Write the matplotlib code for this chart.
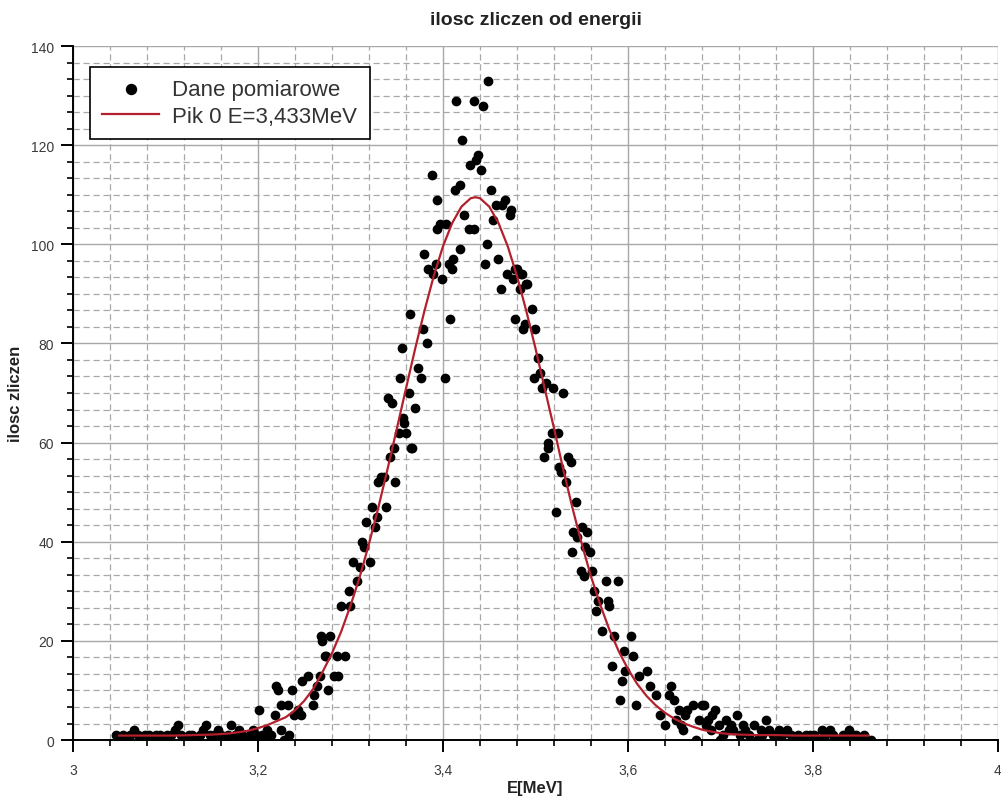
import matplotlib
matplotlib.use("Agg")
import matplotlib.pyplot as plt
from matplotlib.ticker import MultipleLocator, FuncFormatter

plt.rcParams['font.family'] = ['Liberation Sans', 'DejaVu Sans']

# punkty pomiarowe
energy = [3.047, 3.050, 3.054, 3.058, 3.062, 3.066, 3.070, 3.074, 3.078, 3.082,
          3.086, 3.090, 3.094, 3.098, 3.102, 3.106, 3.110, 3.113, 3.117, 3.121,
          3.125, 3.129, 3.133, 3.137, 3.141, 3.144, 3.148, 3.152, 3.157, 3.160,
          3.164, 3.168, 3.171, 3.175, 3.179, 3.183, 3.187, 3.191, 3.195, 3.198,
          3.201, 3.204, 3.207, 3.210, 3.214, 3.218, 3.220, 3.222, 3.225, 3.225,
          3.228, 3.232, 3.234, 3.237, 3.239, 3.243, 3.246, 3.248, 3.254, 3.260,
          3.261, 3.264, 3.267, 3.268, 3.269, 3.272, 3.274, 3.276, 3.278, 3.282,
          3.285, 3.286, 3.290, 3.294, 3.298, 3.300, 3.303, 3.307, 3.310, 3.312,
          3.315, 3.317, 3.321, 3.323, 3.327, 3.329, 3.330, 3.333, 3.336, 3.338,
          3.341, 3.343, 3.345, 3.347, 3.348, 3.352, 3.354, 3.356, 3.357, 3.358,
          3.360, 3.363, 3.364, 3.365, 3.367, 3.370, 3.373, 3.376, 3.378, 3.379,
          3.383, 3.384, 3.388, 3.389, 3.392, 3.393, 3.394, 3.397, 3.399, 3.402,
          3.403, 3.406, 3.408, 3.410, 3.411, 3.413, 3.414, 3.418, 3.418, 3.421,
          3.423, 3.428, 3.429, 3.433, 3.434, 3.436, 3.438, 3.441, 3.443, 3.445,
          3.448, 3.449, 3.452, 3.454, 3.457, 3.459, 3.463, 3.464, 3.467, 3.469,
          3.472, 3.473, 3.476, 3.478, 3.478, 3.480, 3.483, 3.484, 3.485, 3.487,
          3.489, 3.490, 3.491, 3.496, 3.498, 3.500, 3.503, 3.505, 3.507, 3.509,
          3.511, 3.513, 3.514, 3.518, 3.519, 3.522, 3.524, 3.525, 3.528, 3.530,
          3.533, 3.535, 3.538, 3.540, 3.541, 3.544, 3.545, 3.549, 3.550, 3.552,
          3.554, 3.556, 3.559, 3.561, 3.563, 3.565, 3.568, 3.572, 3.576, 3.578,
          3.580, 3.583, 3.585, 3.589, 3.591, 3.594, 3.596, 3.597, 3.603, 3.605,
          3.609, 3.612, 3.621, 3.624, 3.630, 3.635, 3.640, 3.644, 3.647, 3.650,
          3.652, 3.655, 3.657, 3.660, 3.662, 3.664, 3.670, 3.673, 3.677, 3.680,
          3.682, 3.684, 3.686, 3.690, 3.691, 3.694, 3.698, 3.700, 3.703, 3.706,
          3.709, 3.711, 3.714, 3.718, 3.721, 3.724, 3.727, 3.731, 3.736, 3.739,
          3.744, 3.745, 3.749, 3.752, 3.757, 3.759, 3.763, 3.767, 3.772, 3.776,
          3.780, 3.784, 3.788, 3.792, 3.797, 3.801, 3.806, 3.810, 3.813, 3.818,
          3.822, 3.826, 3.832, 3.836, 3.839, 3.843, 3.847, 3.851, 3.855, 3.858, 3.863]
counts = [1, 0, 1, 0, 1, 2, 1, 0, 1, 1,
          0, 1, 1, 0, 1, 1, 2, 3, 1, 0,
          1, 1, 0, 1, 2, 3, 1, 1, 2, 1,
          0, 1, 3, 1, 2, 1, 0, 1, 2, 1,
          6, 1, 0, 2, 1, 5, 11, 10, 2, 7,
          0, 7, 1, 10, 5, 6, 5, 12, 13, 7,
          9, 11, 13, 21, 20, 17, 17, 10, 21, 13,
          17, 13, 27, 17, 30, 27, 36, 32, 35, 40,
          39, 44, 36, 47, 43, 45, 52, 53, 53, 47,
          69, 57, 68, 59, 52, 62, 73, 79, 65, 64,
          62, 70, 86, 59, 59, 67, 75, 73, 83, 98,
          80, 95, 114, 94, 96, 103, 109, 104, 93, 73,
          104, 96, 85, 95, 97, 111, 129, 99, 112, 121,
          106, 103, 116, 103, 129, 117, 118, 115, 128, 96,
          100, 133, 111, 105, 108, 97, 91, 108, 109, 94,
          106, 107, 93, 85, 95, 95, 91, 94, 94, 83,
          84, 92, 92, 87, 73, 83, 77, 74, 71, 57,
          72, 60, 59, 62, 71, 46, 62, 55, 54, 70,
          52, 57, 56, 38, 42, 48, 41, 34, 43, 33,
          39, 42, 38, 34, 30, 26, 28, 22, 32, 28,
          27, 15, 21, 32, 8, 12, 18, 14, 21, 17,
          7, 13, 14, 11, 9, 5, 3, 9, 11, 8,
          4, 6, 3, 2, 5, 6, 7, 0, 4, 7,
          7, 3, 4, 2, 5, 6, 3, 0, 1, 4,
          2, 3, 2, 5, 1, 3, 2, 1, 3, 0,
          2, 1, 4, 2, 1, 1, 2, 1, 2, 1,
          0, 1, 0, 1, 1, 1, 0, 2, 1, 2,
          1, 0, 1, 1, 2, 1, 1, 0, 1, 0, 0]

# krzywa dopasowania
fit_e = [3.05, 3.07, 3.09, 3.11, 3.13, 3.15, 3.16, 3.17, 3.18, 3.19,
         3.20, 3.21, 3.22, 3.23, 3.24, 3.25, 3.26, 3.27, 3.28, 3.29,
         3.30, 3.31, 3.32, 3.33, 3.34, 3.35, 3.36, 3.37, 3.38, 3.39,
         3.40, 3.41, 3.42, 3.43, 3.435, 3.44, 3.45, 3.46, 3.47, 3.48, 3.49,
         3.50, 3.51, 3.52, 3.53, 3.54, 3.55, 3.56, 3.57, 3.58, 3.59,
         3.60, 3.61, 3.62, 3.63, 3.64, 3.65, 3.66, 3.67, 3.68, 3.69,
         3.70, 3.71, 3.72, 3.74, 3.76, 3.78, 3.80, 3.82, 3.84, 3.86]
fit_n = [0.9, 0.9, 0.9, 0.9, 1.0, 1.1, 1.2, 1.35, 1.6, 1.9,
         2.4, 3.0, 3.8, 4.6, 6.0, 7.9, 10.4, 13.8, 17.5, 21.9,
         27.1, 32.9, 39.6, 46.8, 54.6, 62.7, 70.9, 79.0, 86.6, 93.6,
         99.6, 104.3, 107.6, 109.3, 109.5, 109.3, 107.6, 104.3, 99.6, 93.6, 86.6,
         79.0, 70.9, 62.9, 54.6, 46.8, 39.6, 33.0, 27.3, 22.2, 17.9,
         14.3, 11.3, 8.9, 7.0, 5.5, 4.3, 3.4, 2.7, 2.1, 1.7,
         1.4, 1.2, 1.1, 1.0, 1.0, 0.9, 0.9, 0.9, 0.9, 0.9]

fig = plt.figure(figsize=(10.01, 8.12), dpi=100)
ax = fig.add_axes([0.0729, 0.0874, 0.9241, 0.8547])

ax.scatter(energy, counts, s=36, color='black', zorder=3, label='Dane pomiarowe')
ax.plot(fit_e, fit_n, color='#b3202c', lw=1.6, zorder=4, label='Pik 0 E=3,433MeV')

ax.set_xlim(3, 4)
ax.set_ylim(0, 140)
ax.xaxis.set_major_locator(MultipleLocator(0.2))
ax.xaxis.set_minor_locator(MultipleLocator(0.04))
ax.yaxis.set_major_locator(MultipleLocator(20))
ax.yaxis.set_minor_locator(MultipleLocator(20 / 6))
ax.xaxis.set_major_formatter(FuncFormatter(lambda v, p: ('%g' % round(v, 2)).replace('.', ',')))

ax.grid(True, which='major', color='#a8a8a8', lw=1.0, ls='-', zorder=0)
ax.grid(True, which='minor', color='#a8a8a8', lw=0.9, ls=(0, (5, 3)), zorder=0)

for s in ['top', 'right']:
    ax.spines[s].set_visible(False)
for s in ['left', 'bottom']:
    ax.spines[s].set_linewidth(1.4)

ax.tick_params(which='major', direction='out', length=8.5, width=1.4, labelsize=10, colors='black',
               labelcolor='#3a3a3a')
ax.tick_params(which='minor', direction='out', length=4.5, width=1.2)
ax.tick_params(axis='x', which='major', pad=8)
ax.tick_params(axis='y', which='major', pad=5)

ax.set_title('ilosc zliczen od energii', fontsize=14, fontweight='bold', pad=16, color='#222222')
ax.set_xlabel('E[MeV]', fontsize=12, fontweight='bold', labelpad=2, color='#222222')
ax.set_ylabel('ilosc zliczen', fontsize=12, fontweight='bold', labelpad=6, color='#222222')

leg = ax.legend(loc='upper left', bbox_to_anchor=(0.0184, 0.9697), borderaxespad=0, fontsize=16,
                frameon=True, fancybox=False, edgecolor='black', framealpha=1, borderpad=0.55,
                handlelength=2.56, handletextpad=0.6, labelspacing=0.25, markerscale=1.2)
leg.get_frame().set_linewidth(1.2)
for t in leg.get_texts():
    t.set_color('#333333')
leg.set_zorder(5)

fig.savefig('out.png', dpi=100)
